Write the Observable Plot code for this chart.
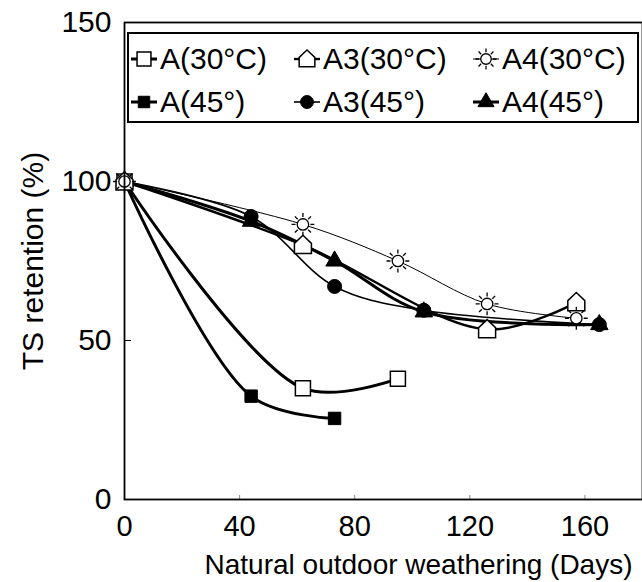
<!DOCTYPE html>
<html><head><meta charset="utf-8">
<script src="https://cdn.jsdelivr.net/npm/d3@7"></script>
<script src="https://cdn.jsdelivr.net/npm/@observablehq/plot@0.6"></script>
<style>
body{margin:0;background:#fff;}
#wrap{position:relative;width:642px;height:582px;font-family:"Liberation Sans",Arial,sans-serif;color:#000;}
#legend{position:absolute;left:127px;top:32px;width:508px;height:87px;border:2px solid #000;background:#fff;}
.item{position:absolute;display:flex;align-items:center;font-size:30px;line-height:1;white-space:nowrap;}
.item svg{margin-right:3px;}
</style></head><body><div id="wrap"></div>
<script>
// ---- data ----
const seriesNames = ["A(30°C)", "A3(30°C)", "A4(30°C)", "A(45°)", "A3(45°)", "A4(45°)"];
const daysA30  = [0, 62, 95];
const retA30   = [100, 35, 38];
const daysA330 = [0, 62, 126, 157];
const retA330  = [100, 80, 53.5, 62];
const daysA430 = [0, 62, 95, 126, 157];
const retA430  = [100, 86.5, 75, 61.5, 57];
const daysA45  = [0, 44, 73];
const retA45   = [100, 32.5, 25.5];
const daysA345 = [0, 44, 73, 104, 165];
const retA345  = [100, 89, 67, 59.5, 55];
const daysA445 = [0, 44, 73, 104, 165];
const retA445  = [100, 87.5, 75, 59, 55];
const xTicks = [0, 40, 80, 120, 160];
const yTicks = [0, 50, 100, 150];
const xLabel = "Natural outdoor weathering (Days)";
const yLabel = "TS retention (%)";

const seriesDays = [daysA30, daysA330, daysA430, daysA45, daysA345, daysA445];
const seriesRet  = [retA30, retA330, retA430, retA45, retA345, retA445];

// ---- custom symbols ----
const house = {draw(ctx, size) {
  const r = Math.sqrt(size / Math.PI);
  ctx.moveTo(0, -1.15 * r); ctx.lineTo(r, -0.2 * r); ctx.lineTo(r, r);
  ctx.lineTo(-r, r); ctx.lineTo(-r, -0.2 * r); ctx.closePath();
}};
const sun = {draw(ctx, size) {
  const r = Math.sqrt(size / Math.PI);
  const c = 0.6 * r;
  ctx.moveTo(c, 0); ctx.arc(0, 0, c, 0, 2 * Math.PI); ctx.closePath();
  for (let i = 0; i < 8; i++) {
    const a = i * Math.PI / 4;
    ctx.moveTo(Math.cos(a) * 0.78 * r, Math.sin(a) * 0.78 * r);
    ctx.lineTo(Math.cos(a) * 1.2 * r, Math.sin(a) * 1.2 * r);
  }
}};

// ---- styles ----
const styles = [
  {symbol: d3.symbolSquare, fill: "white", r: 8.5, sw: 3, msw: 1.5},
  {symbol: house, fill: "white", r: 8.5, sw: 2.4, msw: 1.5},
  {symbol: sun, fill: "white", r: 9.5, sw: 1, msw: 1.3},
  {symbol: d3.symbolSquare, fill: "black", r: 7, sw: 3, msw: 1},
  {symbol: d3.symbolCircle, fill: "black", r: 7, sw: 1.6, msw: 1},
  {symbol: d3.symbolTriangle, fill: "black", r: 6.5, sw: 3, msw: 1}
];

const table = seriesNames.flatMap((name, i) =>
  seriesDays[i].map((d, j) => ({series: name, idx: i, day: d, ret: seriesRet[i][j]})));

const marks = [];
seriesNames.forEach((name, i) => {
  const data = table.filter(d => d.series === name);
  marks.push(Plot.line(data, {x: "day", y: "ret", curve: "catmull-rom", stroke: "black", strokeWidth: styles[i].sw}));
});
[5, 4, 3, 0, 1, 2].forEach(i => {
  const data = table.filter(d => d.idx === i);
  const s = styles[i];
  marks.push(Plot.dot(data, {x: "day", y: "ret", symbol: () => s.symbol, r: s.r, fill: s.fill, stroke: "black", strokeWidth: s.msw}));
});

const plot = Plot.plot({
  width: 642, height: 582,
  marginLeft: 124, marginRight: 0, marginTop: 22, marginBottom: 83,
  style: {fontFamily: "Liberation Sans, Arial, sans-serif", fontSize: "29px", color: "black", background: "white"},
  x: {domain: [0, 180]},
  y: {domain: [0, 150]},
  symbol: {type: "identity"},
  marks: [
    Plot.axisY(yTicks, {tickSize: 0, tickPadding: 13, label: null, fontSize: 30}),
    Plot.axisY(yTicks, {tickSize: -7, text: null, label: null}),
    Plot.axisX(xTicks, {tickSize: 0, tickPadding: 16, label: null, fontSize: 29}),
    Plot.axisX(xTicks, {tickSize: -4, text: null, label: null, stroke: "#888"}),
    ...marks,
    Plot.frame({stroke: "black", strokeWidth: 1.8}),
    Plot.text([xLabel], {text: d => d, frameAnchor: "bottom", textAnchor: "middle", lineAnchor: "middle", dx: 35, dy: 66, fontSize: 28}),
    Plot.text([yLabel], {text: d => d, frameAnchor: "left", textAnchor: "middle", lineAnchor: "middle", rotate: -90, dx: -91, fontSize: 30})
  ]
});

const wrap = document.getElementById("wrap");
wrap.appendChild(plot);

// ---- legend ----
const legend = document.createElement("div");
legend.id = "legend";
wrap.appendChild(legend);
const pos = [[2, 10], [165, 10], [344, 10], [2, 53], [165, 53], [344, 53]];
seriesNames.forEach((name, i) => {
  const s = styles[i];
  const item = document.createElement("div");
  item.className = "item";
  item.style.left = pos[i][0] + "px";
  item.style.top = pos[i][1] + "px";
  const size = Math.PI * s.r * s.r * 0.85;
  const path = d3.symbol(s.symbol, size)();
  item.innerHTML = `<svg width="26" height="28" viewBox="-13 -14 26 28">
    <line x1="-13" x2="13" y1="0" y2="0" stroke="black" stroke-width="${s.sw}"/>
    <path d="${path}" fill="${s.fill}" stroke="black" stroke-width="${s.msw}"/></svg><span>${name}</span>`;
  legend.appendChild(item);
});
</script>
</body></html>
